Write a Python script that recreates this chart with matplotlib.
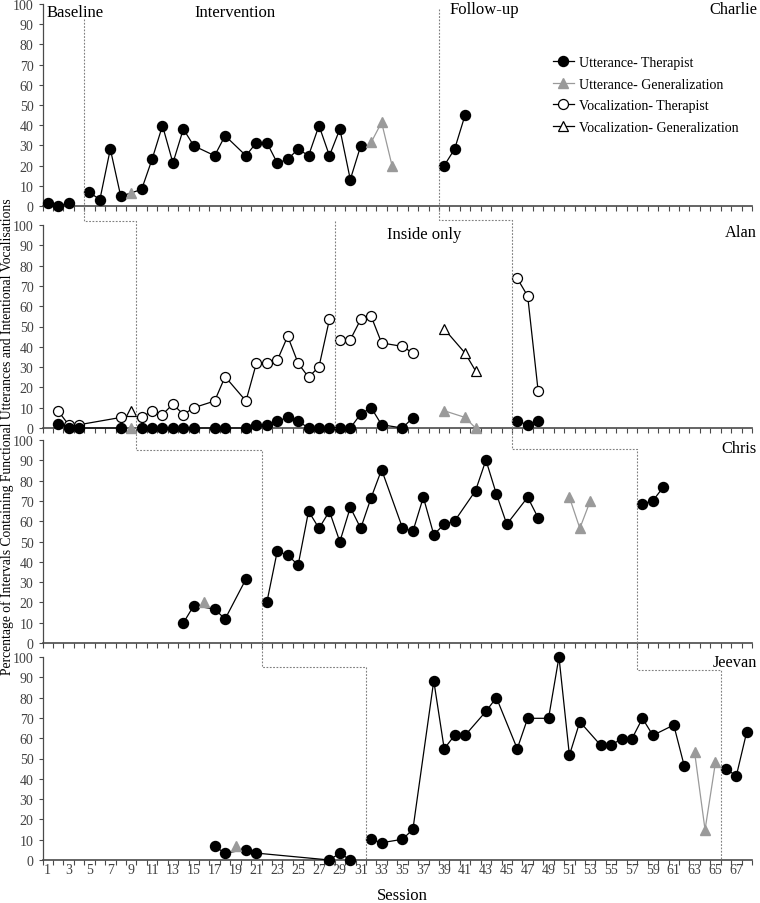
import numpy as np
import matplotlib
matplotlib.use("Agg")
import matplotlib.pyplot as plt
from matplotlib.lines import Line2D

plt.rcParams['font.family'] = ['Liberation Serif', 'DejaVu Serif']

nan = np.nan

# ---------------- data (session, percentage); nan = line break ----------------
charlie_ut_x = [1, 2, 3, nan, 5, 6, 7, 8, 10, 11, 12, 13, 14, 15, 17, 18, 20, 21, 22, 23, 24, 25,
                26, 27, 28, 29, 30, 31, nan, 39, 40, 41]
charlie_ut_y = [1.5, 0, 1.5, nan, 6.7, 3.2, 28.2, 4.8, 8.2, 23.1, 39.8, 21.3, 38.1, 29.8, 24.9, 34.8,
                24.9, 31.4, 31.4, 21.3, 23.1, 28.2, 24.9, 39.8, 24.9, 38.1, 13.1, 29.8, nan, 20, 28.2, 45]
charlie_ug_x = [9, nan, 32, 33, 34]
charlie_ug_y = [6.4, nan, 31.5, 41.4, 20]

alan_ut_x = [2, 3, 4, 8, nan, 10, 11, 12, 13, 14, 15, 17, 18, 20, 21, 22, 23, 24, 25, 26, 27, 28,
             nan, 29, 30, 31, 32, 33, 35, 36, nan, 46, 47, 48]
alan_ut_y = [2, 0, 0, 0, nan, 0, 0, 0, 0, 0, 0, 0, 0, 0, 1.6, 1.6, 3.4, 5.2, 3.4, 0, 0, 0,
             nan, 0, 0, 6.9, 10, 1.6, 0, 5.1, nan, 3.4, 1.6, 3.4]
alan_vt_x = alan_ut_x
alan_vt_y = [8.4, 1.6, 1.6, 5.2, nan, 5.2, 8.4, 6.6, 11.8, 6.6, 10, 13.3, 25.3, 13.3, 31.9, 31.9, 33.3,
             45.2, 31.9, 25, 30.2, 53.5, nan, 43.5, 43.5, 53.5, 55, 41.9, 40.2, 36.9, nan, 73.7, 65, 18.4]
alan_vg_x = [9, nan, 39, 41, 42]
alan_vg_y = [8.4, nan, 48.8, 36.9, 28.2]
alan_ug_x = [9, nan, 39, 41, 42]
alan_ug_y = [0, nan, 8.5, 5.2, 0]

chris_ut_x = [14, 15, 17, 18, 20, nan, 22, 23, 24, 25, 26, 27, 28, 29, 30, 31, 32, 33, 35, 36, 37, 38,
              39, 40, 42, 43, 44, 45, 47, 48, nan, 58, 59, 60]
chris_ut_y = [9.9, 18.4, 16.7, 11.8, 31.5, nan, 20, 45.2, 43.3, 38.4, 64.9, 56.5, 64.9, 49.9, 66.8,
              56.5, 71.6, 85.4, 56.7, 55, 71.8, 53.4, 58.5, 60.1, 75, 90.1, 73.4, 58.5, 71.8, 61.7,
              nan, 68.5, 70.1, 76.8]
chris_ug_x = [16, nan, 51, 52, 53]
chris_ug_y = [20, nan, 71.8, 56.5, 70]

jeevan_ut_x = [17, 18, 20, 21, 28, 29, 30, nan, 32, 33, 35, 36, 38, 39, 40, 41, 43, 44, 46, 47, 49, 50,
               51, 52, 54, 55, 56, 57, 58, 59, 61, 62, nan, 66, 67, 68]
jeevan_ut_y = [6.7, 3.4, 5.1, 3.4, 0, 3.4, 0, nan, 10.2, 8.5, 10.2, 15.1, 88.3, 54.8, 61.4, 61.4,
               73.2, 80, 54.8, 69.8, 69.8, 100, 51.6, 68.1, 56.5, 56.5, 59.8, 59.8, 69.8, 61.4, 66.5,
               46.5, nan, 44.8, 41.5, 63.2]
jeevan_ug_x = [19, nan, 63, 64, 65]
jeevan_ug_y = [6.7, nan, 53, 14.9, 48.1]

participants = ["Charlie", "Alan", "Chris", "Jeevan"]
baseline_end = [4.5, 9.5, 21.5, 31.5]
followup_start = [38.5, 45.5, 57.5, 65.5]
inside_only_start = 28.5
legend_labels = ["Utterance- Therapist", "Utterance- Generalization",
                 "Vocalization- Therapist", "Vocalization- Generalization"]
x_tick_labels = list(range(1, 68, 2))

# ---------------- styles ----------------
GRAY = '#9a9a9a'
ut_ther = dict(color='black', lw=0.9, marker='o', ms=7.2, mfc='black', mec='black', zorder=4)
ut_gen = dict(color=GRAY, lw=0.9, marker='^', ms=6.5, mfc=GRAY, mec=GRAY, zorder=5)
voc_ther = dict(color='black', lw=0.9, marker='o', ms=7.2, mfc='white', mec='black', mew=0.9, zorder=3)
voc_gen = dict(color='black', lw=0.9, marker='^', ms=6.5, mfc='white', mec='black', mew=0.9, zorder=3)

W, H = 760, 904
fig = plt.figure(figsize=(W / 100, H / 100), dpi=100)

panel_px = [(5, 207), (226, 429), (441, 644), (658, 861)]
left_px, right_px = 42.5, 752
SPINE = '#4a4a4a'
TICKC = '#404040'

axes = []
for i, (top, bot) in enumerate(panel_px):
    ax = fig.add_axes([left_px / W, 1 - bot / H, (right_px - left_px) / W, (bot - top) / H])
    ax.set_xlim(0.5, 68.5)
    ax.set_ylim(0, 100)
    for s in ['top', 'right']:
        ax.spines[s].set_visible(False)
    ax.spines['left'].set_color(SPINE)
    ax.spines['left'].set_linewidth(0.9)
    ax.spines['bottom'].set_color(SPINE)
    ax.spines['bottom'].set_linewidth(1.2)
    ax.set_yticks(np.arange(0, 101, 10))
    ax.tick_params(axis='y', direction='out', length=3, width=0.8, color=SPINE,
                   labelsize=10, labelcolor=TICKC, pad=3.5)
    ax.set_xticks(np.arange(0.5, 69, 1))
    ax.set_xticklabels([])
    ax.tick_params(axis='x', which='major', direction='out', length=3.5, width=0.8, color=SPINE)
    if i == 3:
        ax.set_xticks(x_tick_labels, minor=True)
        ax.set_xticklabels([str(v) for v in x_tick_labels], minor=True)
        ax.tick_params(axis='x', which='minor', length=0, labelsize=10, labelcolor=TICKC, pad=2.5)
    ax.patch.set_alpha(0)
    axes.append(ax)

ax_c, ax_a, ax_ch, ax_j = axes

ax_c.plot(charlie_ut_x, charlie_ut_y, clip_on=False, **ut_ther)
ax_c.plot(charlie_ug_x, charlie_ug_y, clip_on=False, **ut_gen)

ax_a.plot(alan_vt_x, alan_vt_y, clip_on=False, **voc_ther)
ax_a.plot(alan_vg_x, alan_vg_y, clip_on=False, **voc_gen)
ax_a.plot(alan_ut_x, alan_ut_y, clip_on=False, **ut_ther)
ax_a.plot(alan_ug_x, alan_ug_y, clip_on=False, **ut_gen)

ax_ch.plot(chris_ut_x, chris_ut_y, clip_on=False, **ut_ther)
ax_ch.plot(chris_ug_x, chris_ug_y, clip_on=False, **ut_gen)

ax_j.plot(jeevan_ut_x, jeevan_ut_y, clip_on=False, **ut_ther)
ax_j.plot(jeevan_ug_x, jeevan_ug_y, clip_on=False, **ut_gen)

# ---------------- phase change lines (stepped, across panels) ----------------
inv = fig.transFigure.inverted()


def fpt(ax, x, y):
    return inv.transform(ax.transData.transform((x, y)))


def step_line(xs, tops, steps):
    pts = [fpt(axes[0], xs[0], tops)]
    for k in range(1, 4):
        pts.append(fpt(axes[k], xs[k - 1], steps[k - 1]))
        pts.append(fpt(axes[k], xs[k], steps[k - 1]))
    pts.append(fpt(axes[3], xs[3], 0))
    pts = np.array(pts)
    fig.add_artist(Line2D(pts[:, 0], pts[:, 1], transform=fig.transFigure, color='#808080',
                          lw=0.8, linestyle=(0, (1.6, 1.4))))


step_line(baseline_end, 92.6, [102.0, 95.0, 95.0])
step_line(followup_start, 97.5, [102.7, 95.5, 93.6])
p = np.array([fpt(ax_a, inside_only_start, 102.0), fpt(ax_a, inside_only_start, 0)])
fig.add_artist(Line2D(p[:, 0], p[:, 1], transform=fig.transFigure, color='#808080',
                      lw=0.8, linestyle=(0, (1.6, 1.4))))

# ---------------- texts ----------------
def ftext(xp, yp, s, size, ha='center', va='center', **kw):
    fig.text(xp / W, 1 - yp / H, s, fontsize=size, ha=ha, va=va, color='black', **kw)


ftext(47, 13, "Baseline", 12, ha='left')
ftext(234.7, 13, "Intervention", 12)
ftext(484.5, 9.5, "Follow-up", 12)
ftext(757, 10, "Charlie", 11.8, ha='right')
ftext(424.5, 235, "Inside only", 12)
ftext(757, 233, "Alan", 11.8, ha='right')
ftext(757, 449, "Chris", 11.8, ha='right')
ftext(757, 663, "Jeevan", 11.8, ha='right')

ftext(402, 896, "Session", 12)
ftext(7.5, 437, "Percentage of Intervals Containing Functional Utterances and Intentional Vocalisations",
      9.8, rotation=90)

# ---------------- legend ----------------
handles = [Line2D([], [], **ut_ther), Line2D([], [], **ut_gen),
           Line2D([], [], **voc_ther), Line2D([], [], **voc_gen)]
leg = ax_c.legend(handles, legend_labels, loc='upper left',
                  bbox_to_anchor=(553 / W, 1 - 57 / H), bbox_transform=fig.transFigure,
                  frameon=False, borderpad=0, borderaxespad=0, handlelength=1.5,
                  handletextpad=0.35, labelspacing=0.62, fontsize=10)

fig.savefig("out.png", dpi=100)
